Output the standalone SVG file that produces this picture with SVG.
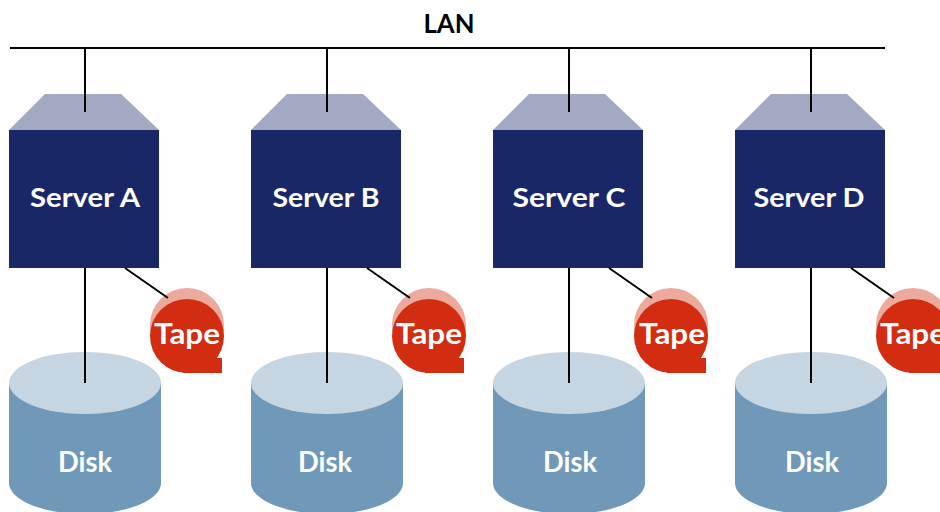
<svg xmlns="http://www.w3.org/2000/svg" xmlns:xlink="http://www.w3.org/1999/xlink" width="940" height="512" viewBox="0 0 940 512">
<style>
text{font-family:"Lato","Liberation Sans",sans-serif;font-weight:700;fill:#fff;text-anchor:middle}
.srv{font-size:27px}
.dsk{font-size:29px}
.tap{font-size:29px}
.lan{font-size:27px;fill:#000}
.roof{fill:#a3a8c3}
.box{fill:#1a2767}
.dside{fill:#7098b9}
.dtop{fill:#c6d5e2}
.tback{fill:#ecaa9d}
.tfront{fill:#d22d10}
.wire{stroke:#000;stroke-width:2;fill:none}
</style>
<defs>
<g id="server"><path class="roof" d="M45 94H121L159 130H9Z"/><rect class="box" x="9" y="130" width="150" height="138"/></g>
<g id="disk"><path class="dside" d="M9 383V483C9 500 43 514 85 514S161 500 161 483V383Z"/><ellipse class="dtop" cx="85" cy="383" rx="76" ry="31"/></g>
<g id="tape"><circle class="tback" cx="187" cy="325" r="37"/><circle class="tfront" cx="187" cy="336" r="37"/><rect class="tfront" x="183" y="358" width="39" height="15"/></g>
</defs>
<g id="server-a"><use href="#server"/><text class="srv" x="85" y="207" textLength="110" lengthAdjust="spacingAndGlyphs">Server A</text></g>
<g id="server-b"><use href="#server" x="242"/><text class="srv" x="326" y="207" textLength="107" lengthAdjust="spacingAndGlyphs">Server B</text></g>
<g id="server-c"><use href="#server" x="484"/><text class="srv" x="569" y="207" textLength="113" lengthAdjust="spacingAndGlyphs">Server C</text></g>
<g id="server-d"><use href="#server" x="726"/><text class="srv" x="809" y="207" textLength="111" lengthAdjust="spacingAndGlyphs">Server D</text></g>
<g id="disk-a"><use href="#disk"/><text class="dsk" x="85" y="472" textLength="54" lengthAdjust="spacingAndGlyphs">Disk</text></g>
<g id="disk-b"><use href="#disk" x="242"/><text class="dsk" x="325" y="472" textLength="54" lengthAdjust="spacingAndGlyphs">Disk</text></g>
<g id="disk-c"><use href="#disk" x="484"/><text class="dsk" x="570" y="472" textLength="54" lengthAdjust="spacingAndGlyphs">Disk</text></g>
<g id="disk-d"><use href="#disk" x="726"/><text class="dsk" x="812" y="472" textLength="54" lengthAdjust="spacingAndGlyphs">Disk</text></g>
<g id="tape-a"><use href="#tape"/><text class="tap" x="187" y="344" textLength="66" lengthAdjust="spacingAndGlyphs">Tape</text></g>
<g id="tape-b"><use href="#tape" x="242"/><text class="tap" x="429" y="344" textLength="66" lengthAdjust="spacingAndGlyphs">Tape</text></g>
<g id="tape-c"><use href="#tape" x="484"/><text class="tap" x="672" y="344" textLength="66" lengthAdjust="spacingAndGlyphs">Tape</text></g>
<g id="tape-d"><use href="#tape" x="726"/><text class="tap" x="913" y="344" textLength="66" lengthAdjust="spacingAndGlyphs">Tape</text></g>
<g id="lan"><text class="lan" x="449" y="33" textLength="51" lengthAdjust="spacingAndGlyphs">LAN</text></g>
<g id="connectors">
<path class="wire" d="M10 48H885M85 48V112M327 48V112M569 48V112M811 48V112"/>
<path class="wire" d="M85 268V383M327 268V383M569 268V383M811 268V383"/>
<path class="wire" d="M125 268L168 298M367 268L410 298M609 268L652 298M851 268L894 298"/>
</g>
</svg>
